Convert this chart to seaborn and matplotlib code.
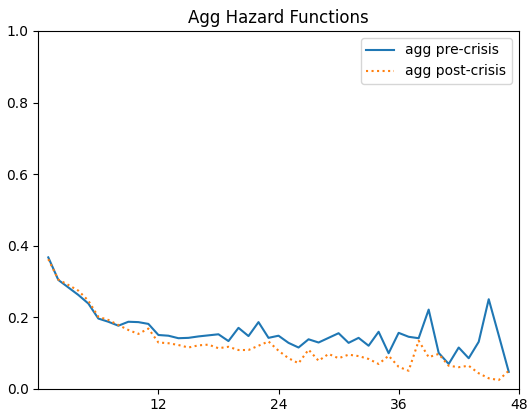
import matplotlib
matplotlib.use("Agg")
import matplotlib.pyplot as plt
import seaborn as sns
import pandas as pd

months = list(range(1, 48))
pre_crisis = [0.367, 0.304, 0.283, 0.262, 0.238, 0.196, 0.187, 0.176, 0.187, 0.186,
              0.181, 0.150, 0.148, 0.141, 0.142, 0.146, 0.149, 0.152, 0.133, 0.170,
              0.147, 0.186, 0.142, 0.148, 0.128, 0.115, 0.138, 0.129, 0.142, 0.155,
              0.128, 0.142, 0.120, 0.159, 0.099, 0.156, 0.145, 0.141, 0.221, 0.100,
              0.069, 0.115, 0.085, 0.131, 0.250, 0.149, 0.047]
post_crisis = [0.362, 0.305, 0.290, 0.274, 0.246, 0.201, 0.192, 0.178, 0.164, 0.153,
               0.168, 0.129, 0.127, 0.122, 0.115, 0.121, 0.123, 0.113, 0.117, 0.108,
               0.108, 0.120, 0.132, 0.106, 0.085, 0.071, 0.109, 0.078, 0.097, 0.085,
               0.095, 0.091, 0.083, 0.069, 0.092, 0.061, 0.050, 0.134, 0.088, 0.097,
               0.064, 0.060, 0.064, 0.043, 0.029, 0.024, 0.050]
x_ticks = [12, 24, 36, 48]

df = pd.DataFrame({"month": months, "pre": pre_crisis, "post": post_crisis})

fig = plt.figure(figsize=(5.28, 4.17), dpi=100)
ax = fig.add_axes([0.0725, 0.068, 0.910, 0.8577])

sns.lineplot(data=df, x="month", y="pre", ax=ax, color="tab:blue",
             linestyle="-", label="agg pre-crisis", linewidth=1.5)
sns.lineplot(data=df, x="month", y="post", ax=ax, color="tab:orange",
             linestyle=":", label="agg post-crisis", linewidth=1.5)

ax.set_xlim(0, 48)
ax.set_ylim(0, 1.0)
ax.set_xticks(x_ticks)
ax.set_xlabel("")
ax.set_ylabel("")
ax.set_title("Agg Hazard Functions", fontsize=12)
ax.legend(loc="upper right", fontsize=10)

fig.savefig("out.png", dpi=100)
